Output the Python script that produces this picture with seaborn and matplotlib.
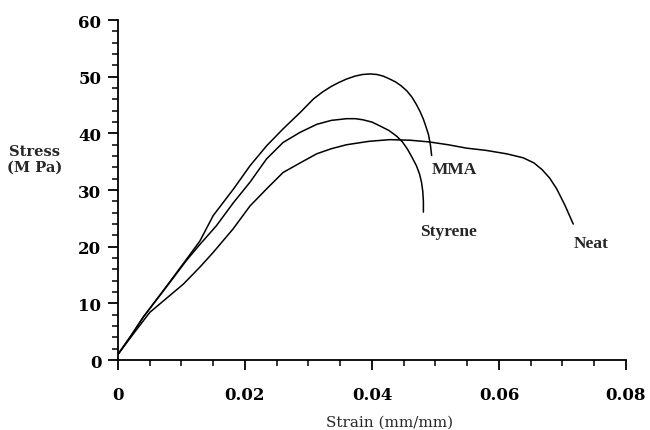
import matplotlib
matplotlib.use("Agg")
import matplotlib.pyplot as plt
import seaborn as sns
import pandas as pd
from matplotlib.ticker import MultipleLocator, FuncFormatter

mma_strain = [0, 0.002, 0.004, 0.0077, 0.0108, 0.0129, 0.015, 0.0182, 0.0208, 0.0234,
              0.026, 0.0287, 0.0308, 0.0322, 0.0336, 0.0348, 0.036, 0.0373, 0.0385,
              0.0397, 0.0408, 0.0418, 0.0428, 0.0437, 0.0446, 0.0455, 0.0463, 0.047,
              0.0476, 0.0481, 0.0485, 0.0489, 0.0492, 0.0494]
mma_stress = [1.0, 4.2, 7.6, 13.1, 17.8, 21.0, 25.5, 30.2, 34.3, 37.8,
              40.8, 43.7, 46.1, 47.3, 48.3, 49.0, 49.6, 50.1, 50.4,
              50.5, 50.4, 50.1, 49.6, 49.1, 48.4, 47.5, 46.4, 45.1,
              43.8, 42.5, 41.2, 39.8, 38.0, 36.1]

sty_strain = [0, 0.002, 0.004, 0.0077, 0.0108, 0.0129, 0.0155, 0.0182, 0.0208, 0.0234,
              0.026, 0.0287, 0.0313, 0.0336, 0.036, 0.0374, 0.0386, 0.04, 0.0413,
              0.0427, 0.0439, 0.0448, 0.0456, 0.0463, 0.047, 0.0475, 0.0478, 0.048,
              0.0481, 0.0481]
sty_stress = [1.0, 4.2, 7.6, 13.0, 17.6, 20.4, 23.7, 27.8, 31.4, 35.5,
              38.4, 40.2, 41.6, 42.3, 42.6, 42.6, 42.4, 42.0, 41.3,
              40.5, 39.5, 38.5, 37.2, 35.8, 34.3, 32.8, 31.4, 29.8,
              28.0, 26.1]

neat_strain = [0, 0.002, 0.005, 0.0103, 0.0129, 0.015, 0.0181, 0.0208, 0.0234, 0.026,
               0.0287, 0.0313, 0.0336, 0.036, 0.0395, 0.0428, 0.046, 0.049, 0.052,
               0.0549, 0.058, 0.0612, 0.0638, 0.0655, 0.0668, 0.068, 0.0691, 0.0704,
               0.0717]
neat_stress = [1.0, 4.0, 8.4, 13.4, 16.4, 19.0, 23.1, 27.2, 30.2, 33.1,
               34.8, 36.4, 37.3, 38.0, 38.6, 38.9, 38.8, 38.5, 38.0,
               37.4, 37.0, 36.4, 35.7, 34.8, 33.6, 32.1, 30.2, 27.3,
               24.0]

curve_labels = ["MMA", "Styrene", "Neat"]
x_ticks = [0, 0.02, 0.04, 0.06, 0.08]
y_ticks = [0, 10, 20, 30, 40, 50, 60]

df = pd.concat([
    pd.DataFrame({"strain": mma_strain, "stress": mma_stress, "sample": "MMA"}),
    pd.DataFrame({"strain": sty_strain, "stress": sty_stress, "sample": "Styrene"}),
    pd.DataFrame({"strain": neat_strain, "stress": neat_stress, "sample": "Neat"}),
])

sns.set_style("ticks")
plt.rcParams["font.family"] = ["DejaVu Serif"]

fig = plt.figure(figsize=(6.5, 4.31), dpi=100)
ax = fig.add_axes([0.1815, 0.1624, 0.7815, 0.7886])

sns.lineplot(data=df, x="strain", y="stress", units="sample", estimator=None,
             sort=False, color="black", linewidth=1.1, ax=ax)

ax.set_xlim(0, 0.08)
ax.set_ylim(0, 60)
ax.set_xticks(x_ticks)
ax.set_yticks(y_ticks)
ax.xaxis.set_minor_locator(MultipleLocator(0.005))
ax.yaxis.set_minor_locator(MultipleLocator(2))
ax.xaxis.set_major_formatter(FuncFormatter(lambda v, p: "0" if v == 0 else f"{v:.2f}"))
ax.tick_params(which="major", direction="out", length=7, width=1.3, colors="black",
               labelsize=12)
ax.tick_params(axis="x", which="major", pad=12)
ax.tick_params(axis="y", which="major", pad=5)
ax.tick_params(which="minor", direction="out", length=4, width=1.1, colors="black")
for lab in ax.get_xticklabels() + ax.get_yticklabels():
    lab.set_fontweight("bold")

sns.despine(ax=ax)
for s in ["left", "bottom"]:
    ax.spines[s].set_linewidth(1.3)
    ax.spines[s].set_color("black")

ax.set_xlabel("")
ax.set_ylabel("")
fig.text(390 / 650, 1 - 423 / 431, "Strain (mm/mm)", ha="center", va="center", fontsize=11)
fig.text(35 / 650, 1 - 160 / 431, "Stress\n(M Pa)", ha="center", va="center",
         fontsize=10.5, fontweight="bold", linespacing=1.2)

label_pos = {"MMA": (0.0494, 35.2), "Styrene": (0.0475, 24.2), "Neat": (0.0717, 22.0)}
for name in curve_labels:
    x, y = label_pos[name]
    ax.text(x, y, name, ha="left", va="top", fontsize=12.5, fontweight="bold",
            family="Liberation Serif")

fig.savefig("out.png", dpi=100)
